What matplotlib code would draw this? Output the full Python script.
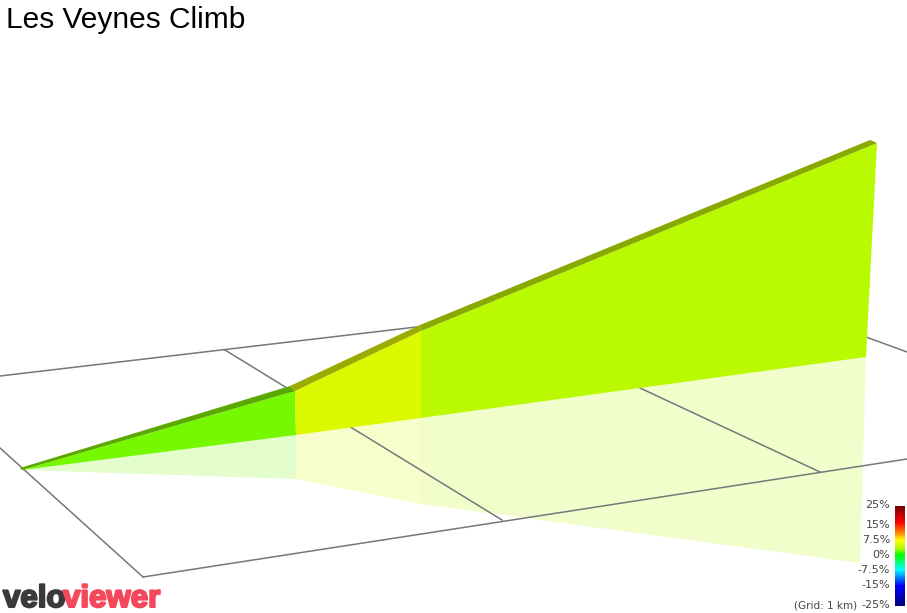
import matplotlib
matplotlib.use("Agg")
import matplotlib.pyplot as plt
import matplotlib.patheffects as pe
from matplotlib.colors import LinearSegmentedColormap
import numpy as np

plt.rcParams['font.family'] = ['Liberation Sans', 'DejaVu Sans']

title = "Les Veynes Climb"

# projected profile, in picture coordinates
top_x = [20, 290, 420, 870]
top_y = [468, 386, 325, 140]
band_x = [22, 295, 421, 877]
band_y = [470, 391, 331, 143]
base_x = [22, 296, 421, 866]
base_y = [470, 435, 418, 357]
shadow_x = [22, 296, 421, 860]
shadow_y = [470, 479, 504, 563]

wall_colors = ["#76f900", "#dcf900", "#b9fa00"]
band_colors = ["#5aa800", "#9cab00", "#88a900"]

# grid lines as (x0, y0, x1, y1)
grid_lines = [
    (0, 376, 425, 326),
    (143, 577, 907, 459),
    (0, 448, 143, 577),
    (225, 350, 502, 520),
    (640, 388, 820, 472),
    (866, 337, 907, 352),
]

bar_pos = [0, 0.16, 0.26, 0.34, 0.42, 0.49, 0.64, 0.80, 1]
bar_colors = ["#7d0000", "#ff0000", "#ff8000", "#ffff00", "#b8fa00", "#00ff00",
              "#00ffff", "#0000ff", "#00007d"]
scale_labels = ["25%", "15%", "7.5%", "0%", "-7.5%", "-15%", "-25%"]
scale_y = [505, 525, 540, 555, 570, 585, 605]

fig = plt.figure(figsize=(9.07, 6.13), dpi=100)
ax = fig.add_axes([0, 0, 1, 1])
ax.axis("off")

for i in range(3):
    # faded copy on the ground
    xs = [base_x[i], base_x[i + 1], shadow_x[i + 1], shadow_x[i]]
    ys = [base_y[i], base_y[i + 1], shadow_y[i + 1], shadow_y[i]]
    ax.fill(xs, ys, color=wall_colors[i], alpha=0.2, lw=0, zorder=1)

for x0, y0, x1, y1 in grid_lines:
    ax.plot([x0, x1], [y0, y1], color="#777777", lw=1.1, zorder=2)

for i in range(3):
    # wall
    xs = [band_x[i], band_x[i + 1], base_x[i + 1], base_x[i]]
    ys = [band_y[i], band_y[i + 1], base_y[i + 1], base_y[i]]
    ax.fill(xs, ys, color=wall_colors[i], lw=0, zorder=3)
    # darker strip along the top
    xs = [top_x[i], top_x[i + 1], band_x[i + 1], band_x[i]]
    ys = [top_y[i], top_y[i + 1], band_y[i + 1], band_y[i]]
    ax.fill(xs, ys, color=band_colors[i], lw=0, zorder=4)

ax.text(6, 28, title, fontsize=21.5, color="black", va="baseline", ha="left")

cmap = LinearSegmentedColormap.from_list("grade", list(zip(bar_pos, bar_colors)))
ax.imshow(np.linspace(0, 1, 100).reshape(-1, 1), cmap=cmap, aspect="auto",
          extent=(895, 905, 606, 506), zorder=5)
ax.set_xlim(0, 907)
ax.set_ylim(613, 0)

for lab, y in zip(scale_labels, scale_y):
    ax.text(890, y, lab, fontsize=8, family="DejaVu Sans", color="#444444", ha="right", va="center")
ax.text(857, 605, "(Grid: 1 km)", fontsize=7.5, family="DejaVu Sans", color="#444444", ha="right", va="center")

t1 = ax.text(3, 607, "velo", fontsize=22.5, weight="bold", color="#3c3a38", ha="left", va="baseline")
t2 = ax.text(63, 607, "viewer", fontsize=22.5, weight="bold", color="#f4485c", ha="left", va="baseline")
t1.set_path_effects([pe.withStroke(linewidth=1.5, foreground="#3c3a38")])
t2.set_path_effects([pe.withStroke(linewidth=1.5, foreground="#f4485c")])

fig.savefig("out.png", dpi=100)
